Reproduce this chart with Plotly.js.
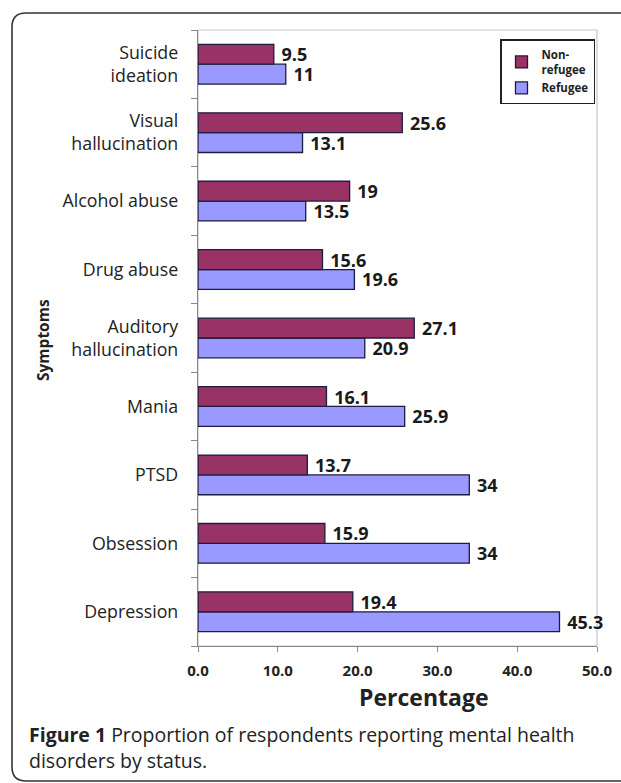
<!DOCTYPE html>
<html>
<head>
<meta charset="utf-8">
<script src="https://cdn.plot.ly/plotly-3.0.1.min.js"></script>
<style>html,body{margin:0;padding:0;background:#fff;}#chart{width:621px;height:783px;}</style>
</head>
<body>
<div id="chart"></div>
<script>
// Categories listed bottom-to-top (Plotly category order)
const symptoms = ["Depression", "Obsession", "PTSD", "Mania", "Auditory<br>hallucination", "Drug abuse", "Alcohol abuse", "Visual<br>hallucination", "Suicide<br>ideation"];
const nonRefugee = [19.4, 15.9, 13.7, 16.1, 27.1, 15.6, 19, 25.6, 9.5];
const refugee = [45.3, 34, 34, 25.9, 20.9, 19.6, 13.5, 13.1, 11];
const xTicks = [0, 10, 20, 30, 40, 50];
const xTickLabels = ["0.0", "10.0", "20.0", "30.0", "40.0", "50.0"];

const W = 621, H = 783;
const M = {l: 198, r: 24, t: 30, b: 137};
const pw = W - M.l - M.r, ph = H - M.t - M.b;
const px = x => (x - M.l) / pw;          // pixel x -> paper x
const py = y => (H - M.b - y) / ph;      // pixel y -> paper y

const FONT = "Open Sans, Noto Sans, sans-serif";
const NB = "\u00a0";

const traces = [
  {
    type: "bar", orientation: "h", name: "Refugee",
    y: symptoms, x: refugee,
    text: refugee.map(v => NB + v), textposition: "outside", constraintext: "none",
    textfont: {family: FONT, size: 18, color: "#1a1a1a", weight: 700},
    cliponaxis: false,
    marker: {color: "#9999FF", line: {color: "#1c1c40", width: 1.3}}
  },
  {
    type: "bar", orientation: "h", name: "Non-<br>refugee",
    y: symptoms, x: nonRefugee,
    text: nonRefugee.map(v => NB + v), textposition: "outside", constraintext: "none",
    textfont: {family: FONT, size: 18, color: "#1a1a1a", weight: 700},
    cliponaxis: false,
    marker: {color: "#993366", line: {color: "#1c1c40", width: 1.3}}
  }
];

// rounded outer frame
const fx0 = px(12), fx1 = px(640), fy0 = py(13), fy1 = py(781);
const rx = 14 / pw, ry = 14 / ph;
const framePath = `M ${fx0 + rx},${fy0} L ${fx1},${fy0} M ${fx0 + rx},${fy0} Q ${fx0},${fy0} ${fx0},${fy0 - ry} L ${fx0},${fy1 + ry} Q ${fx0},${fy1} ${fx0 + rx},${fy1} L ${fx1},${fy1}`;

const layout = {
  width: W, height: H,
  margin: M,
  paper_bgcolor: "#fff", plot_bgcolor: "#fff",
  barmode: "group", bargap: 0.42, bargroupgap: 0,
  font: {family: FONT, color: "#222"},
  showlegend: true,
  legend: {
    x: px(500), y: py(39), xanchor: "left", yanchor: "top",
    traceorder: "reversed",
    bgcolor: "#fff", bordercolor: "#222", borderwidth: 1.5,
    font: {family: FONT, size: 11.5, color: "#222", weight: 700},
    itemwidth: 30, tracegroupgap: 4
  },
  xaxis: {
    range: [0, 50], tickvals: xTicks, ticktext: xTickLabels,
    showgrid: false, zeroline: false,
    showline: true, linecolor: "#888", linewidth: 1.2,
    ticks: "outside", ticklen: 5, tickcolor: "#888",
    ticklabelstandoff: 6,
    tickfont: {family: FONT, size: 15, color: "#222", weight: 700},
    fixedrange: true
  },
  yaxis: {
    type: "category", categoryorder: "array", categoryarray: symptoms,
    showgrid: false, zeroline: false,
    showline: true, linecolor: "#888", linewidth: 1.2,
    ticks: "outside", ticklen: 6, tickcolor: "#888", tickson: "boundaries",
    ticklabelstandoff: 15,
    tickfont: {family: FONT, size: 17.8, color: "#222"},
    fixedrange: true
  },
  shapes: [
    {type: "rect", xref: "paper", yref: "paper", x0: 0, x1: 1, y0: 0, y1: 1,
     line: {color: "#c8c8c8", width: 1.2}, layer: "below"},
    {type: "path", xref: "paper", yref: "paper", path: framePath,
     line: {color: "#333", width: 1.6}}
  ],
  annotations: [
    {xref: "paper", yref: "paper", x: px(423), y: py(697), xanchor: "center", yanchor: "middle",
     text: "<b>Percentage</b>", showarrow: false, font: {family: FONT, size: 23, color: "#222"}},
    {xref: "paper", yref: "paper", x: px(43), y: py(340), xanchor: "center", yanchor: "middle",
     text: "<b>Symptoms</b>", textangle: -90, showarrow: false, font: {family: FONT, size: 15.5, color: "#222"}},
    {xref: "paper", yref: "paper", x: px(27), y: py(734), xanchor: "left", yanchor: "middle",
     text: "<b>Figure 1</b> Proportion of respondents reporting mental health", showarrow: false,
     font: {family: FONT, size: 19.5, color: "#222"}},
    {xref: "paper", yref: "paper", x: px(27), y: py(760), xanchor: "left", yanchor: "middle",
     text: "disorders by status.", showarrow: false,
     font: {family: FONT, size: 19.5, color: "#222"}}
  ]
};

Plotly.newPlot("chart", traces, layout, {displayModeBar: false, staticPlot: true});
</script>
</body>
</html>
